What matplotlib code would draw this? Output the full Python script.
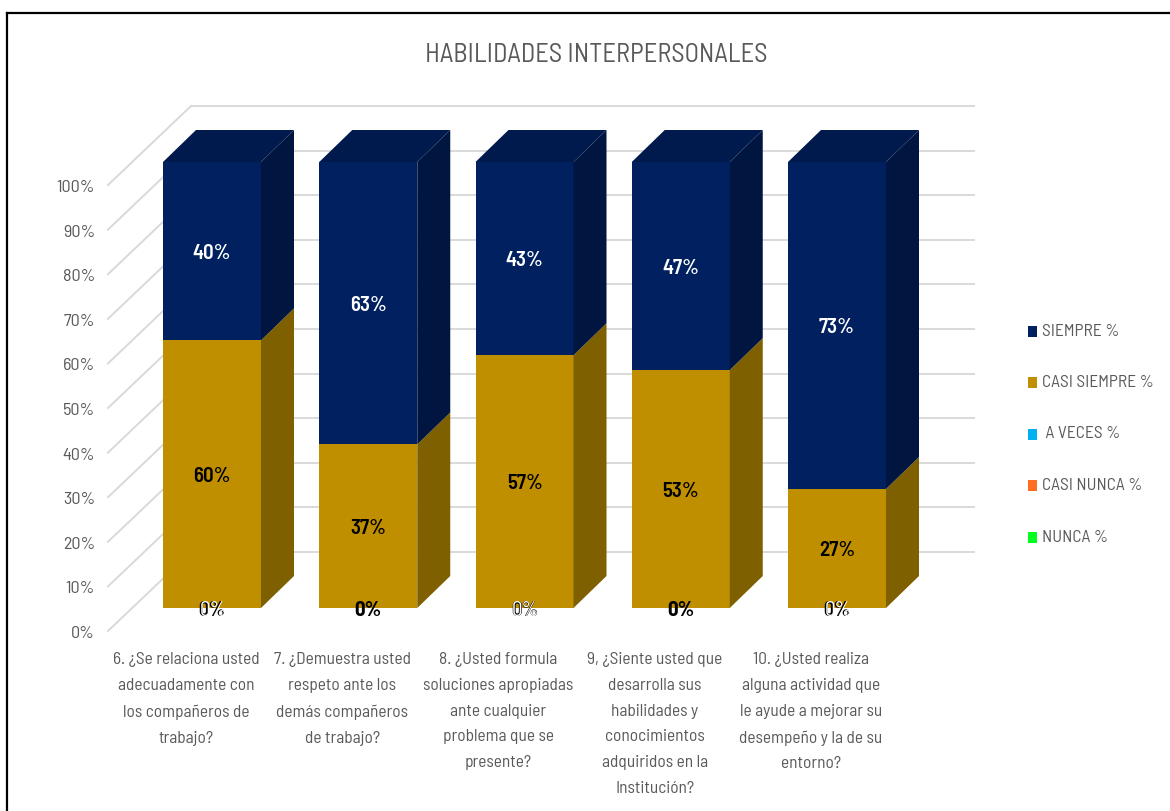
import matplotlib
matplotlib.use('Agg')
import matplotlib.pyplot as plt
from matplotlib.patches import Polygon

questions = [
    '6. ¿Se relaciona usted\nadecuadamente con\nlos compañeros de\ntrabajo?',
    '7. ¿Demuestra usted\nrespeto ante los\ndemás compañeros\nde trabajo?',
    '8. ¿Usted formula\nsoluciones apropiadas\nante cualquier\nproblema que se\npresente?',
    '9, ¿Siente usted que\ndesarrolla sus\nhabilidades y\nconocimientos\nadquiridos en la\nInstitución?',
    '10. ¿Usted realiza\nalguna actividad que\nle ayude a mejorar su\ndesempeño y la de su\nentorno?',
]
nunca = [0, 0, 0, 0, 0]
casi_nunca = [0, 0, 0, 0, 0]
a_veces = [0, 0, 0, 0, 0]
casi_siempre = [60, 36.67, 56.67, 53.33, 26.67]
siempre = [40, 63.33, 43.33, 46.67, 73.33]
y_ticks = [0, 10, 20, 30, 40, 50, 60, 70, 80, 90, 100]
legend_names = ['SIEMPRE %', 'CASI SIEMPRE %', ' A VECES %', 'CASI NUNCA %', 'NUNCA %']
legend_colors = ['#002060', '#BF8F00', '#00B0F0', '#FF6D22', '#00FF1E']

FONT = ['Barlow Semi Condensed', 'Lato', 'DejaVu Sans']
GREY = '#595959'

# one x unit is the category pitch, one y unit is one percent
PX_X = 156.25
PX_Y = 4.46
X0 = 212
Y0 = 608
BAR_W = 98 / PX_X
DX = 33 / PX_X
DY = 32 / PX_Y
WALL_DX = 83 / PX_X
WALL_DY = 79 / PX_Y
FLOOR_Y = -23 / PX_Y
FLOOR_X = (108 - X0) / PX_X
WALL_END = (974 - X0) / PX_X
TEXT_DROP = 2 / PX_Y
TICK_DROP = 2.5 / PX_Y
CATEGORY_SHIFT = -26 / PX_X


def px_x(px):
    return (px - X0) / PX_X


def px_y(px):
    return (Y0 - px) / PX_Y


def draw_segment(ax, x, bottom, height, front, side, top=None):
    left = x - BAR_W / 2
    right = x + BAR_W / 2
    ax.bar(x, height, BAR_W, bottom=bottom, color=front, zorder=3)
    ax.add_patch(Polygon([(right, bottom), (right + DX, bottom + DY),
                          (right + DX, bottom + height + DY), (right, bottom + height)],
                         color=side, lw=0, zorder=3))
    if top:
        ax.add_patch(Polygon([(left, bottom + height), (left + DX, bottom + height + DY),
                              (right + DX, bottom + height + DY), (right, bottom + height)],
                             color=top, lw=0, zorder=3))


def main():
    fig = plt.figure(figsize=(11.7, 8.11), dpi=100)
    ax = fig.add_axes([0, 0, 1, 1])
    ax.set_xlim(px_x(0), px_x(1170))
    ax.set_ylim(px_y(811), px_y(0))
    ax.axis('off')

    # gridlines on the side wall and the back wall
    for t in y_ticks:
        y = t + FLOOR_Y
        ax.plot([FLOOR_X, FLOOR_X + WALL_DX], [y, y + WALL_DY], color='#D9D9D9', lw=1.4, zorder=1)
        ax.plot([FLOOR_X + WALL_DX, WALL_END], [y + WALL_DY, y + WALL_DY],
                color='#D9D9D9', lw=1.4, zorder=1)
        ax.text(px_x(95), y - TICK_DROP, f'{t}%', ha='right', va='center', fontsize=13,
                color=GREY, family=FONT)

    for i, q in enumerate(questions):
        draw_segment(ax, i, 0, casi_siempre[i], '#BF8F00', '#7F6000')
        draw_segment(ax, i, casi_siempre[i], siempre[i], '#002060', '#001540', '#001A4D')

        ax.text(i, casi_siempre[i] / 2 - TEXT_DROP, f'{casi_siempre[i]:.0f}%', ha='center', va='center',
                fontsize=15, fontweight='semibold', color='black', family=FONT, zorder=5)
        ax.text(i, casi_siempre[i] + siempre[i] / 2 - TEXT_DROP, f'{siempre[i]:.0f}%', ha='center', va='center',
                fontsize=15, fontweight='semibold', color='white', family=FONT, zorder=5)

        # the three empty series stack their labels on the floor of the bar
        zero = f'{nunca[i] + casi_nunca[i] + a_veces[i]:.0f}%'
        ax.text(i, -TEXT_DROP, zero, ha='center', va='center', fontsize=15, fontweight='bold',
                color='black', family=FONT, zorder=5)
        if i % 2 == 0:
            ax.text(i + 0.008, -TEXT_DROP, zero, ha='center', va='center', fontsize=15,
                    color='white', family=FONT, zorder=6)

        ax.text(i + CATEGORY_SHIFT, px_y(652), q, ha='center', va='top', fontsize=12.5,
                color=GREY, family=FONT, linespacing=1.9, zorder=5)

    ax.text(px_x(596), px_y(55), 'HABILIDADES INTERPERSONALES', ha='center', va='center',
            fontsize=19, color=GREY, family=FONT)

    # legend entries
    for k, (name, color) in enumerate(zip(legend_names, legend_colors)):
        y = px_y(331 + 51.5 * k)
        ax.bar(px_x(1032.5), 11 / PX_Y, 9 / PX_X, bottom=y - 5.5 / PX_Y, color=color, zorder=3)
        ax.text(px_x(1042), y, name, ha='left', va='center', fontsize=12.5,
                color=GREY, family=FONT)

    # chart frame, open towards the right and bottom edges
    ax.plot([px_x(6.5), px_x(6.5)], [px_y(811), px_y(12.5)], color='black', lw=1.6, zorder=7)
    ax.plot([px_x(6.5), px_x(1170)], [px_y(12.5), px_y(12.5)], color='black', lw=1.6, zorder=7)

    fig.savefig('out.png', dpi=100)


if __name__ == "__main__":
    main()
